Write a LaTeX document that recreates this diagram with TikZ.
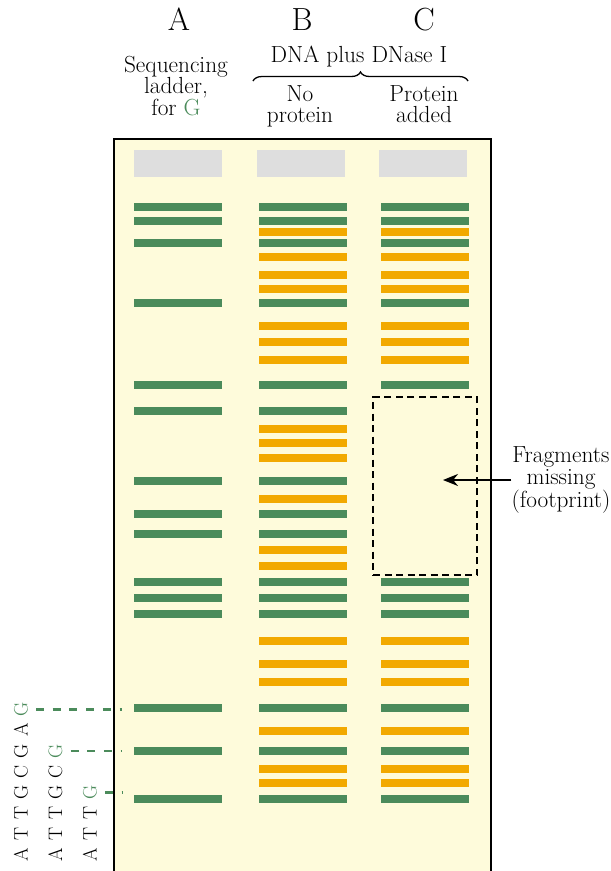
\documentclass[tikz,border=0pt]{standalone}
\usepackage{fontspec}
\usepackage{xcolor}
\usetikzlibrary{arrows.meta,positioning,decorations.pathreplacing}
\definecolor{gelfill}{RGB}{254,251,219}
\definecolor{dnagreen}{RGB}{75,139,91}
\definecolor{cutorange}{RGB}{242,169,0}
\definecolor{wellgray}{RGB}{222,222,222}

\begin{document}
\begin{tikzpicture}[
  x=1pt, y=-1pt,
  every node/.style={inner sep=0pt},
  lbl/.style={align=center, font=\fontsize{23.3}{21.5}\selectfont},
  lanename/.style={anchor=base, font=\fontsize{32}{32}\selectfont},
  well/.style={fill=wellgray, minimum width=88pt, minimum height=27pt},
  gband/.style={fill=dnagreen, minimum width=88pt, minimum height=8pt},
  oband/.style={fill=cutorange, minimum width=88pt, minimum height=8pt},
  nt/.style={rotate=90, anchor=base, font=\fontsize{19.5}{20}\selectfont},
  tie/.style={dnagreen, line width=2.4pt, dash pattern=on 8pt off 8.7pt, shorten <=8pt, shorten >=12pt},
  arr/.style={-{Stealth[length=15pt,width=12pt]}, line width=2pt}
]
  \clip (0,0) rectangle (611,871);
  \draw[fill=gelfill, line width=2.2pt] (114,139) rectangle (491,900);

  \node[lanename] (laneA) at (179,30) {A};
  \node[lanename] (laneB) at (302,30) {B};
  \node[lanename] (laneC) at (424,30) {C};
  \node[lbl, anchor=base] (ladder) at (176,115) {Sequencing\\ladder,\\for \textcolor{dnagreen}{G}};
  \node[lbl, anchor=base] (dnase) at (359,62) {DNA plus DNase I};
  \node[lbl, anchor=base] (noprot) at (300,122.5) {No\\protein};
  \node[lbl, anchor=base] (prot) at (424,122.5) {Protein\\added};
  \coordinate (braceL) at (253,81);
  \coordinate (braceR) at (468,81);
  \draw[decorate, decoration={brace, amplitude=9pt}, line width=1.3pt] (braceL) -- (braceR);

  \node[well] (wellA) at (178,163.5) {};
  \node[well] (wellB) at (301,163.5) {};
  \node[well] (wellC) at (423,163.5) {};

  \foreach \y in {207,221,243,303,385,411,481,514,534,582,598,614,708,751,799}
    \node[gband] (A\y) at (178,\y) {};
  \foreach \y in {207,221,243,303,385,411,481,514,534,582,598,614,708,751,799}
    \node[gband] (B\y) at (302.5,\y) {};
  \foreach \y in {232,257,275,289,326,342,360,429,443,458,499,550,566,641,664,682,731,769,783}
    \node[oband] (B\y) at (302.5,\y) {};
  \foreach \y in {207,221,243,303,385,582,598,614,708,751,799}
    \node[gband] (C\y) at (425,\y) {};
  \foreach \y in {232,257,275,289,326,342,360,641,664,682,731,769,783}
    \node[oband] (C\y) at (425,\y) {};

  \node[draw, line width=1.6pt, dash pattern=on 7pt off 4.5pt, minimum width=104pt, minimum height=178pt] (foot) at (425,486) {};
  \node[lbl] (missing) at (561,480) {Fragments\\missing\\(footprint)};
  \draw[arr, shorten >=18pt] (missing.west) -- (missing.west -| foot.center);

  \foreach \l [count=\k from 0] in {A,T,T,G,C,G,A}
    \node[nt] (s1-\k) at (27.5,855-20.8*\k) {\l};
  \node[nt, text=dnagreen] (g1) at (27.5,855-20.8*7) {G};
  \foreach \l [count=\k from 0] in {A,T,T,G,C}
    \node[nt] (s2-\k) at (62,855-20.8*\k) {\l};
  \node[nt, text=dnagreen] (g2) at (62,855-20.8*5) {G};
  \foreach \l [count=\k from 0] in {A,T,T}
    \node[nt] (s3-\k) at (96.5,855-20.8*\k) {\l};
  \node[nt, text=dnagreen] (g3) at (96.5,855-20.8*3) {G};

  \draw[tie] (g1.south) -- (g1.south -| A708.west);
  \draw[tie] (g2.south) -- (g2.south -| A751.west);
  \draw[tie] (g3.south) -- (g3.south -| A799.west);
\end{tikzpicture}
\end{document}
